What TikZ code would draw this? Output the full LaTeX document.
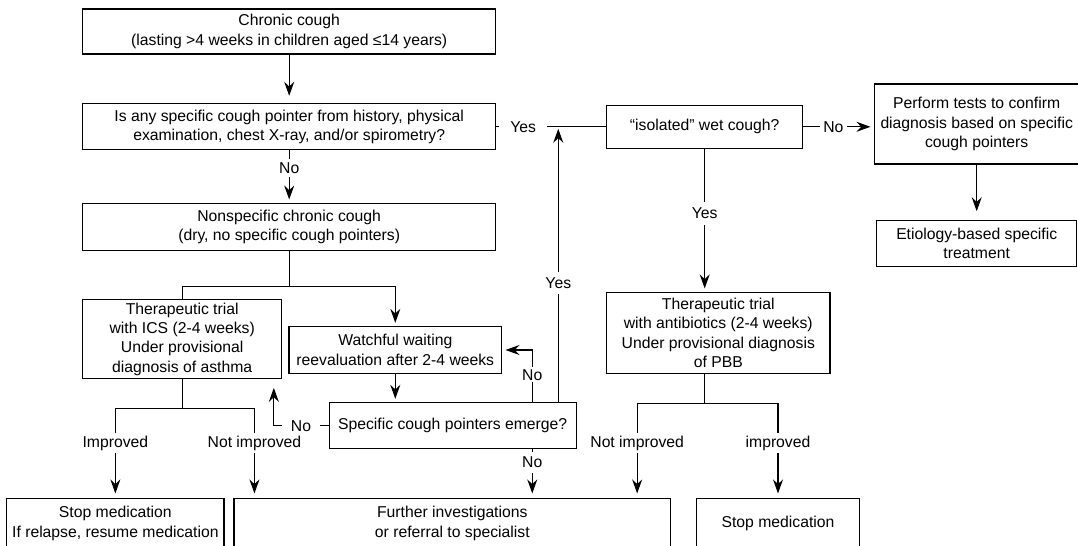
\documentclass[tikz,border=0pt]{standalone}
\usepackage{fontspec}
\setmainfont{Liberation Sans}
\usetikzlibrary{arrows.meta, calc}

\begin{document}
\begin{tikzpicture}[
                    x=0.75pt, y=-0.75pt,
                    >={Stealth[length=10.5pt, width=7.5pt, inset=3.5pt]},
                    line width=0.8pt,
                    font=\fontsize{11.8}{14.5}\selectfont,
                    box/.style={draw, rectangle, align=center, inner sep=0pt},
                    arr/.style={->, shorten >=2.5pt},
                    lbl/.style={fill=white, inner sep=2pt},
                ]
                \useasboundingbox (0,0) rectangle (1078,546);

                % left column
                \node[box, minimum width=309.75pt, minimum height=33.75pt] (chronic) at (289.2,31.5)
                    {Chronic cough\\(lasting >4 weeks in children aged ≤14 years)};
                \node[box, minimum width=309.75pt, minimum height=34.7pt] (question) at (289.2,126.8)
                    {Is any specific cough pointer from history, physical\\examination, chest X-ray, and/or spirometry?};
                \node[box, minimum width=309.75pt, minimum height=35pt] (nonspec) at (289.2,226.7)
                    {Nonspecific chronic cough\\(dry, no specific cough pointers)};
                \node[box, minimum width=149.25pt, minimum height=59.55pt] (ics) at (182.2,339)
                    {Therapeutic trial\\with ICS (2-4 weeks)\\Under provisional\\diagnosis of asthma};
                \node[box, minimum width=159.5pt, minimum height=34.95pt] (watch) at (395.3,350)
                    {Watchful waiting\\reevaluation after 2-4 weeks};
                \node[box, minimum width=185pt, minimum height=34.7pt] (emerge) at (452.7,425.8)
                    {Specific cough pointers emerge?};

                % right part
                \node[box, minimum width=147pt, minimum height=32.25pt] (isolated) at (704.7,126.8)
                    {“isolated” wet cough?};
                \node[box, minimum width=153.5pt, minimum height=60pt] (perform) at (976.7,124)
                    {Perform tests to confirm\\diagnosis based on specific\\cough pointers};
                \node[box, minimum width=150pt, minimum height=34.9pt] (etiology) at (976.7,243.3)
                    {Etiology-based specific\\treatment};
                \node[box, minimum width=167.5pt, minimum height=60.75pt] (antibio) at (718.3,332.8)
                    {Therapeutic trial\\with antibiotics (2-4 weeks)\\Under provisional diagnosis\\of PBB};

                % bottom row
                \node[box, minimum width=163pt, minimum height=37pt] (stopL) at (115.35,523.3)
                    {Stop medication\\If relapse, resume medication};
                \node[box, minimum width=327.5pt, minimum height=37pt] (further) at (452.3,523.3)
                    {Further investigations\\or referral to specialist};
                \node[box, minimum width=122pt, minimum height=37pt] (stopR) at (778,523.3)
                    {Stop medication};

                \coordinate (loopx) at ($(emerge.north east)+(-44.3,0)$);
                \coordinate (yesx) at ($(emerge.north east)+(-18.3,0)$);

                \draw[arr, shorten >=5.5pt] (chronic) -- (question);
                \draw[arr] (question) -- node[lbl, pos=0.33, inner ysep=2.8pt]{No} (nonspec);
                \draw (question.east) -- node[lbl, pos=0.245, inner xsep=8.5pt]{Yes} (isolated.west);
                \draw[arr] (isolated.east) -- node[lbl, pos=0.427, inner xsep=2.4pt]{No} (isolated.east -| perform.west);
                \draw[arr] (isolated.south) -- node[lbl, pos=0.453, inner ysep=4.2pt]{Yes} (isolated.south |- antibio.north);
                \draw[arr, shorten >=6.2pt] (perform) -- (etiology);

                \draw (nonspec.south) -- ++(0,35.7) coordinate (nsplit);
                \draw (nsplit) -| (ics.north);
                \draw[arr] (nsplit) -| (watch.north);
                \draw[arr] (watch.south) -- (watch.south |- emerge.north);

                \draw (ics.south) -- ++(0,29) coordinate (icssplit);
                \draw[arr, shorten >=3.5pt] (icssplit) -| node[lbl, pos=0.696]{Improved} (stopL.north);
                \draw[arr, shorten >=3.5pt] (icssplit) -| node[lbl, pos=0.696]{Not improved} ($(further.north west)+(21,0)$);

                \draw[arr, shorten >=6.5pt] (emerge.west) -| node[lbl, pos=0.253, inner xsep=6.75pt]{No} ($(ics.south east)+(-8.4,0)$);
                \draw[arr] (loopx) |- node[lbl, pos=0.263, inner ysep=1.4pt]{No} (watch.east);
                \draw[arr, shorten >=3.5pt] (loopx |- emerge.south) -- node[lbl, pos=0.27, inner ysep=3.5pt]{No} (loopx |- further.north);
                \draw[arr, shorten >=1.5pt] (yesx) -- node[lbl, pos=0.432, inner ysep=4.3pt]{Yes} (yesx |- question.east);

                \draw (isolated.south |- antibio.south) -- ++(0,29.4) coordinate (abxsplit);
                \draw[arr, shorten >=3.5pt] (abxsplit) -| node[lbl, pos=0.71]{Not improved} ($(further.north east)+(-34,0)$);
                \draw[arr, shorten >=3.5pt] (abxsplit) -| node[lbl, pos=0.71]{improved} (stopR.north);
\end{tikzpicture}
\end{document}
